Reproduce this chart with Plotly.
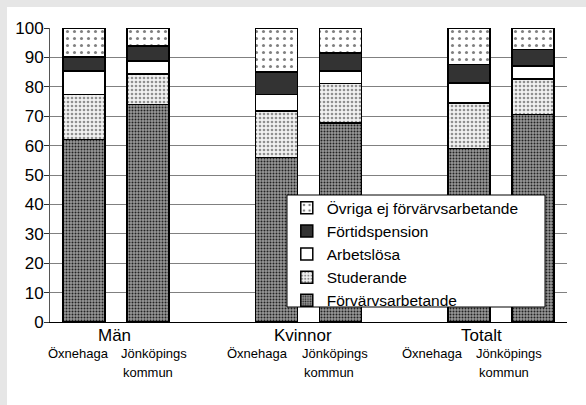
import plotly.graph_objects as go

# ---- data ----
groups = ["Män", "Kvinnor", "Totalt"]
areas = ["Öxnehaga", "Jönköpings kommun"]
series = ["Förvärvsarbetande", "Studerande", "Arbetslösa", "Förtidspension",
          "Övriga ej förvärvsarbetande"]
# order of bars: Män Öx, Män Jkp, Kvinnor Öx, Kvinnor Jkp, Totalt Öx, Totalt Jkp
forvarvsarbetande = [62.1, 74.0, 55.9, 67.7, 59.0, 70.6]
studerande        = [15.2, 10.3, 15.8, 13.4, 15.5, 12.0]
arbetslosa        = [8.1, 4.4, 5.6, 4.3, 6.8, 4.4]
fortidspension    = [4.7, 5.1, 7.7, 6.1, 6.3, 5.7]
ovriga            = [9.9, 6.2, 15.0, 8.5, 12.4, 7.3]
y_ticks = [0, 10, 20, 30, 40, 50, 60, 70, 80, 90, 100]

values = [forvarvsarbetande, studerande, arbetslosa, fortidspension, ovriga]

# bar positions: each group takes 3 slots (2 bars + gap)
xpos = [gi * 3 + ai for gi in range(len(groups)) for ai in range(len(areas))]

styles = [
    dict(color="#909090", pattern=dict(shape=".", size=3, solidity=0.35, fgcolor="#222222", bgcolor="#989898", fillmode="replace")),
    dict(color="#ffffff", pattern=dict(shape=".", size=4, solidity=0.35, fgcolor="#909090", bgcolor="#f2f2f2", fillmode="replace")),
    dict(color="#ffffff"),
    dict(color="#333333"),
    dict(color="#ffffff", pattern=dict(shape=".", size=7, solidity=0.15, fgcolor="#808080", bgcolor="#ffffff", fillmode="replace")),
]

fig = go.Figure()
for name, vals, st in zip(series, values, styles):
    marker = dict(color=st["color"], line=dict(color="#000000", width=1.5))
    if "pattern" in st:
        marker["pattern"] = st["pattern"]
    fig.add_trace(go.Bar(x=xpos, y=vals, name=name, width=0.655, marker=marker, hoverinfo="skip"))

FONT = "Liberation Sans, Arial, sans-serif"

PLOT_H = 294.0
PLOT_W = 517.0

annotations = []
group_label_x = [0.48, 3.42, 6.2]
for gx, g in zip(group_label_x, groups):
    annotations.append(dict(x=gx, y=-13.3 / PLOT_H, xref="x", yref="paper", text=g, showarrow=False,
                            yanchor="middle", font=dict(size=17, color="#000", family=FONT)))
sub_x = [-0.09, 1.09, 2.71, 3.91, 5.44, 6.63]
for i, sx in enumerate(sub_x):
    parts = areas[i % 2].split(" ")
    annotations.append(dict(x=sx, y=-31.3 / PLOT_H, xref="x", yref="paper", text=parts[0],
                            showarrow=False, yanchor="middle", font=dict(size=13, color="#000", family=FONT)))
    if len(parts) > 1:
        annotations.append(dict(x=sx - 0.09, y=-50.3 / PLOT_H, xref="x", yref="paper", text=parts[1],
                                showarrow=False, yanchor="middle", font=dict(size=13, color="#000", family=FONT)))

shapes = [
    # white panel over the light-gray page background
    dict(type="rect", xref="paper", yref="paper", x0=-43 / PLOT_W, x1=1.2,
         y0=-0.5, y1=1 + 21 / PLOT_H, fillcolor="#ffffff", line=dict(width=0), layer="below"),
    # legend box
    dict(type="rect", xref="paper", yref="paper", x0=237 / PLOT_W, x1=495 / PLOT_W,
         y0=15 / PLOT_H, y1=127 / PLOT_H, fillcolor="#ffffff",
         line=dict(color="#000000", width=1), layer="above"),
]

fig.update_layout(
    barmode="stack",
    width=586, height=405,
    margin=dict(l=50, r=19, t=28, b=83, autoexpand=False),
    paper_bgcolor="#e6e6e6",
    plot_bgcolor="#ffffff",
    hovermode=False,
    font=dict(family=FONT, color="#000"),
    showlegend=True,
    legend=dict(traceorder="reversed", x=0.458, y=0.445, xanchor="left", yanchor="top",
                bgcolor="rgba(0,0,0,0)", borderwidth=0,
                font=dict(size=15.5, family=FONT, color="#000")),
    xaxis=dict(range=[-0.53, 7.53], showticklabels=False, ticks="", showgrid=False,
               zeroline=False, showline=True, linecolor="#000", linewidth=1),
    yaxis=dict(range=[0, 100], tickvals=y_ticks, ticks="outside", ticklen=5, tickcolor="#333",
               ticklabelstandoff=-3,
               showgrid=True, gridcolor="#808080", gridwidth=1, zeroline=False,
               showline=True, linecolor="#555", linewidth=1,
               tickfont=dict(size=17, family=FONT, color="#000")),
    annotations=annotations,
    shapes=shapes,
)

fig.write_html(
    "out.html",
    config={"displayModeBar": False, "staticPlot": True},
    post_script=("document.body.style.margin='0';"
                 "document.body.style.overflow='hidden';"
                 "document.documentElement.style.overflow='hidden';"),
)
